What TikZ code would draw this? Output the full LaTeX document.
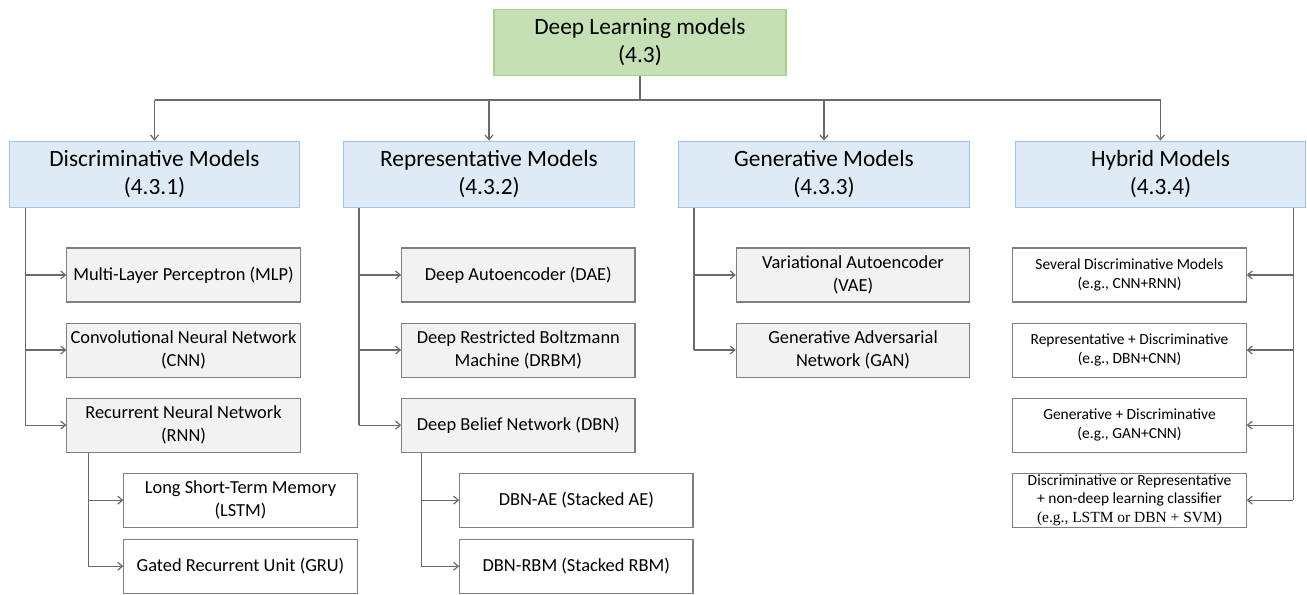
\documentclass[tikz,border=0pt]{standalone}
\usepackage{fontspec}
\setmainfont{Carlito}
\newfontfamily\serifpart{Liberation Serif}
\usepackage{tikz}
\usetikzlibrary{arrows.meta,positioning}
\definecolor{rootfill}{HTML}{C5E0B4}
\definecolor{rootline}{HTML}{A9D18E}
\definecolor{catfill}{HTML}{DEEBF7}
\definecolor{catline}{HTML}{9DC3E6}
\definecolor{leaffill}{HTML}{F2F2F2}
\definecolor{boxline}{HTML}{7F7F7F}
\definecolor{wire}{HTML}{6A6A6A}

\begin{document}
\begin{tikzpicture}[x=0.75pt, y=-0.75pt, node distance = 15pt,
    root/.style = {draw=rootline, fill=rootfill, line width=0.9pt, minimum width=219pt, minimum height=50pt,
                   align=center, inner sep=0pt, font=\fontsize{17.5}{21}\selectfont},
    cat/.style = {draw=catline, fill=catfill, line width=0.9pt, minimum width=218pt, minimum height=50pt,
                  align=center, inner sep=0pt, font=\fontsize{17.5}{21}\selectfont},
    leaf/.style = {draw=boxline, fill=leaffill, line width=0.8pt, minimum width=175pt, minimum height=40.5pt,
                   align=center, inner sep=0pt, font=\fontsize{13.8}{17}\selectfont},
    sub/.style = {leaf, fill=white},
    hyb/.style = {sub, font=\fontsize{11.6}{13.8}\selectfont},
    conn/.style = {draw=wire, line width=0.9pt},
    arr/.style = {conn, -{Straight Barb[length=3.5pt,width=6pt]}}]
\useasboundingbox (0,0) rectangle (1307,594);

% top and categories
\node[root] (dl) at (640,42.5) {Deep Learning models\\(4.3)};
\node[cat] (disc) at (154.5,174.5) {Discriminative Models\\(4.3.1)};
\node[cat] (repr) at (489,174.5) {Representative Models\\(4.3.2)};
\node[cat] (gen) at (824,174.5) {Generative Models\\(4.3.3)};
\node[cat] (hyb) at (1160.5,174.5) {Hybrid Models\\(4.3.4)};

% discriminative
\node[leaf, below=29.25pt of disc, xshift=21.75pt] (mlp) {Multi-Layer Perceptron (MLP)};
\node[leaf, below=of mlp] (cnn) {Convolutional Neural Network\\(CNN)};
\node[leaf, below=of cnn] (rnn) {Recurrent Neural Network\\(RNN)};
\node[sub, below=of rnn, xshift=42.75pt] (lstm) {Long Short-Term Memory\\(LSTM)};
\node[sub, below=8.25pt of lstm] (gru) {Gated Recurrent Unit (GRU)};

% representative
\node[leaf, below=29.25pt of repr, xshift=22pt] (dae) {Deep Autoencoder (DAE)};
\node[leaf, below=of dae] (drbm) {Deep Restricted Boltzmann\\Machine (DRBM)};
\node[leaf, below=of drbm] (dbn) {Deep Belief Network (DBN)};
\node[sub, below=of dbn, xshift=43.5pt] (dbnae) {DBN-AE (Stacked AE)};
\node[sub, below=8.25pt of dbnae] (dbnrbm) {DBN-RBM (Stacked RBM)};

% generative
\node[leaf, below=29.25pt of gen, xshift=21.75pt] (vae) {Variational Autoencoder\\(VAE)};
\node[leaf, below=of vae] (gan) {Generative Adversarial\\Network (GAN)};

% hybrid
\node[hyb, below=29.25pt of hyb, xshift=-23.25pt] (h1) {Several Discriminative Models\\(e.g., CNN+RNN)};
\node[hyb, below=of h1] (h2) {Representative + Discriminative\\(e.g., DBN+CNN)};
\node[hyb, below=of h2] (h3) {Generative + Discriminative\\(e.g., GAN+CNN)};
\node[hyb, below=of h3] (h4) {Discriminative or Representative\\+ non-deep learning classifier\\{\serifpart (e.g., LSTM or DBN + SVM)}};

% wiring
\coordinate (bus) at (640,100);
\coordinate (dt) at ([xshift=12.5pt]disc.south west);
\coordinate (rt) at ([xshift=12pt]repr.south west);
\coordinate (gt) at ([xshift=12pt]gen.south west);
\coordinate (ht) at ([xshift=-9.75pt]hyb.south east);
\coordinate (nt) at ([xshift=16.5pt]rnn.south west);
\coordinate (bt) at ([xshift=15pt]dbn.south west);

\draw[conn] (dl.south) -- (bus);
\draw[conn] (disc |- bus) -- (hyb |- bus);
\path (disc |- bus) edge[arr] (disc.north)
      (repr |- bus) edge[arr] (repr.north)
      (gen |- bus) edge[arr] (gen.north)
      (hyb |- bus) edge[arr] (hyb.north);

\draw[conn] (dt) -- (dt |- rnn.west);
\path (dt |- mlp.west) edge[arr] (mlp.west)
      (dt |- cnn.west) edge[arr] (cnn.west)
      (dt |- rnn.west) edge[arr] (rnn.west);
\draw[conn] (nt) -- (nt |- gru.west);
\path (nt |- lstm.west) edge[arr] (lstm.west)
      (nt |- gru.west) edge[arr] (gru.west);

\draw[conn] (rt) -- (rt |- dbn.west);
\path (rt |- dae.west) edge[arr] (dae.west)
      (rt |- drbm.west) edge[arr] (drbm.west)
      (rt |- dbn.west) edge[arr] (dbn.west);
\draw[conn] (bt) -- (bt |- dbnrbm.west);
\path (bt |- dbnae.west) edge[arr] (dbnae.west)
      (bt |- dbnrbm.west) edge[arr] (dbnrbm.west);

\draw[conn] (gt) -- (gt |- gan.west);
\path (gt |- vae.west) edge[arr] (vae.west)
      (gt |- gan.west) edge[arr] (gan.west);

\draw[conn] (ht) -- (ht |- h4.east);
\path (ht |- h1.east) edge[arr] (h1.east)
      (ht |- h2.east) edge[arr] (h2.east)
      (ht |- h3.east) edge[arr] (h3.east)
      (ht |- h4.east) edge[arr] (h4.east);
\end{tikzpicture}
\end{document}
